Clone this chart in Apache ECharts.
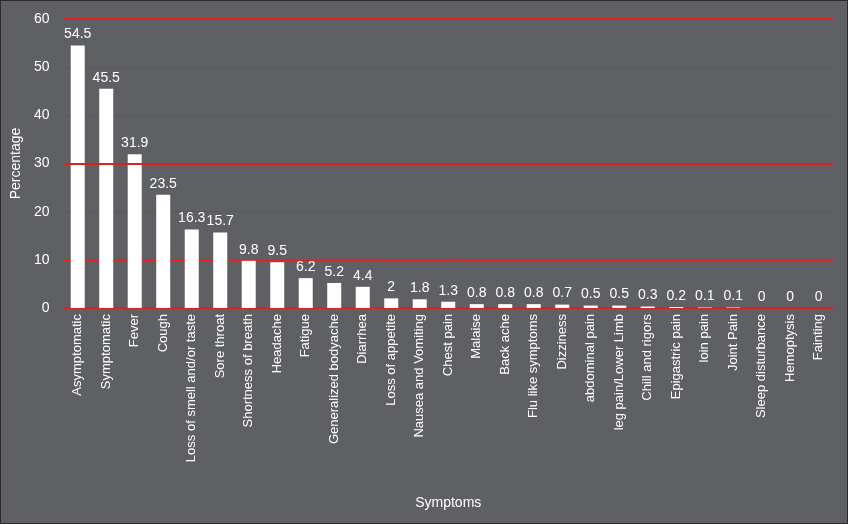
<!DOCTYPE html>
<html>
<head>
<meta charset="UTF-8">
<style>
  html, body { margin: 0; padding: 0; background: #2b2b2b; }
  #chart { width: 846px; height: 522px; border: 1px solid #2b2b2b; background: #5f6064; }
</style>
</head>
<body>
<div id="chart"></div>
<script src="https://cdn.jsdelivr.net/npm/echarts@6/dist/echarts.min.js"></script>
<script>
var categories = ['Asymptomatic', 'Symptomatic', 'Fever', 'Cough', 'Loss of smell and/or taste',
  'Sore throat', 'Shortness of breath', 'Headache', 'Fatigue', 'Generalized bodyache', 'Diarrhea',
  'Loss of appetite', 'Nausea and Vomiting', 'Chest pain', 'Malaise', 'Back ache', 'Flu like symptoms',
  'Dizziness', 'abdominal pain', 'leg pain/Lower Limb', 'Chill and rigors', 'Epigastric pain',
  'loin pain', 'Joint Pain', 'Sleep disturbance', 'Hemoptysis', 'Fainting'];
var values = [54.5, 45.5, 31.9, 23.5, 16.3, 15.7, 9.8, 9.5, 6.2, 5.2, 4.4, 2, 1.8, 1.3, 0.8, 0.8, 0.8,
  0.7, 0.5, 0.5, 0.3, 0.2, 0.1, 0.1, 0, 0, 0];
var majorLines = [30, 60];

var chart = echarts.init(document.getElementById('chart'));
var font = 'Liberation Sans, Arial, sans-serif';
chart.setOption({
  backgroundColor: '#5f6064',
  textStyle: { fontFamily: font },
  grid: { left: 57, right: 14, top: 18, bottom: 215 },
  xAxis: {
    type: 'category',
    data: categories,
    name: 'Symptoms',
    nameLocation: 'middle',
    nameGap: 188,
    nameTextStyle: { color: '#fff', fontSize: 14, fontFamily: font },
    axisLine: { lineStyle: { color: '#e0201f', width: 2 } },
    axisTick: { show: false },
    axisLabel: { rotate: 90, interval: 0, color: '#fff', fontSize: 13, fontFamily: font, margin: 6 }
  },
  yAxis: {
    type: 'value',
    min: 0, max: 60, interval: 10,
    name: 'Percentage',
    nameLocation: 'middle',
    nameGap: 34,
    nameTextStyle: { color: '#fff', fontSize: 14, fontFamily: font },
    axisLine: { show: false },
    axisTick: { show: false },
    axisLabel: { color: '#fff', fontSize: 14, fontFamily: font, margin: 14 },
    splitLine: { lineStyle: { color: '#e0201f', width: 1 } }
  },
  series: [{
    type: 'bar',
    data: values,
    barWidth: 14,
    itemStyle: { color: '#ffffff' },
    label: { show: true, position: 'top', color: '#fff', fontSize: 14, fontFamily: font, distance: 4 },
    markLine: {
      silent: true,
      symbol: 'none',
      label: { show: false },
      lineStyle: { color: '#e0201f', width: 2, type: 'solid' },
      data: majorLines.map(function (v) { return { yAxis: v }; })
    }
  }]
});
</script>
</body>
</html>
